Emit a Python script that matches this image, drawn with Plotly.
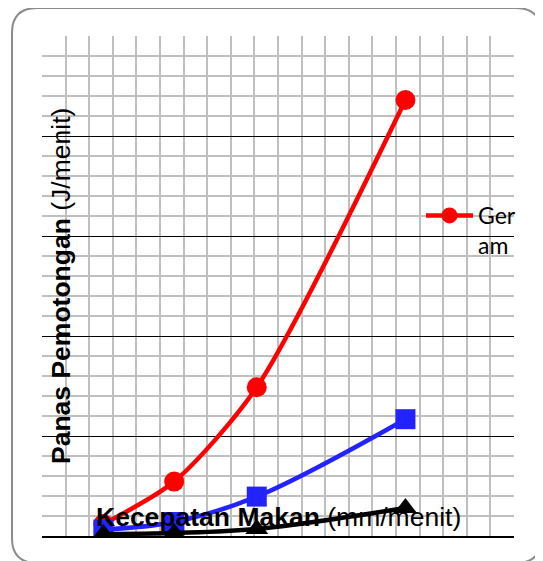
import plotly.graph_objects as go

# ---- data ----
feed_rate = [26, 56, 91, 154]            # Kecepatan Makan (mm/menit)
geram = [6.0, 27.2, 74.4, 218]           # red series
series_blue = [3.2, 7.0, 19.7, 58.4]     # blue series
series_black = [1.0, 1.5, 3.5, 14.0]     # black series
legend_label = "Ger<br>am"
x_title = "<b>Kecepatan Makan</b> (mm/menit)"
y_title = "<b>Panas Pemotongan</b> (J/menit)"

OFF = 8                      # page body margin offset
W, H = 543 - OFF, 561 - OFF
ML, MT = 42 - OFF, 36 - OFF
MR = W - (514 - OFF)
MB = H - (536 - OFF)
PW, PH = W - ML - MR, H - MT - MB


def px(x):
    return (x - OFF - ML) / PW


def py(y):
    return (H - MB - (y - OFF)) / PH


fig = go.Figure()
fig.add_trace(go.Scatter(
    x=feed_rate, y=geram, name=legend_label, mode="lines+markers",
    line=dict(color="#ff0000", width=4.5, shape="spline", smoothing=0.75),
    marker=dict(symbol="circle", size=20, color="#ff0000"),
))
fig.add_trace(go.Scatter(
    x=feed_rate, y=series_blue, mode="lines+markers", showlegend=False,
    line=dict(color="#2323ff", width=4.5, shape="spline", smoothing=1),
    marker=dict(symbol="square", size=20, color="#2323ff"),
))
fig.add_trace(go.Scatter(
    x=feed_rate, y=series_black, mode="lines+markers", showlegend=False,
    line=dict(color="#000000", width=4.5, shape="spline", smoothing=1),
    marker=dict(symbol="triangle-up", size=20, color="#000000"),
))

# rounded outer border
x0, x1, y0, y1, r = 12, 541, 8, 563, 25
pts = lambda a, b: f"{px(a):.5f},{py(b):.5f}"
path = (f"M {pts(x0 + r, y0)} L {pts(x1 - r, y0)} Q {pts(x1, y0)} {pts(x1, y0 + r)} "
        f"L {pts(x1, y1 - r)} Q {pts(x1, y1)} {pts(x1 - r, y1)} "
        f"L {pts(x0 + r, y1)} Q {pts(x0, y1)} {pts(x0, y1 - r)} "
        f"L {pts(x0, y0 + r)} Q {pts(x0, y0)} {pts(x0 + r, y0)} Z")

fig.update_layout(
    width=W, height=H,
    margin=dict(l=ML, r=MR, t=MT, b=MB, pad=0),
    paper_bgcolor="white", plot_bgcolor="white",
    font=dict(family="Liberation Sans, Arial", color="black"),
    showlegend=True,
    legend=dict(
        x=px(421), y=py(194), xanchor="left", yanchor="top",
        bgcolor="rgba(0,0,0,0)", borderwidth=0,
        font=dict(family="Lato, Noto Sans", size=23, color="black"),
        valign="top", itemwidth=47,
    ),
    xaxis=dict(
        range=[0, 200], dtick=10, tick0=0, showticklabels=False, ticks="",
        showgrid=True, gridcolor="#bfbfbf", gridwidth=1.5, zeroline=False,
        showline=True, linecolor="black", linewidth=2,
    ),
    yaxis=dict(
        range=[0, 250], dtick=50, tick0=0, showticklabels=False, ticks="",
        showgrid=True, gridcolor="black", gridwidth=1.3, zeroline=False,
        showline=False,
        minor=dict(dtick=10, showgrid=True, gridcolor="#bfbfbf", gridwidth=1.5),
    ),
    shapes=[dict(type="path", xref="paper", yref="paper", path=path,
                 line=dict(color="#8c8c8c", width=2), layer="below")],
    annotations=[
        dict(text=x_title, x=px(278), y=py(517), xref="paper", yref="paper",
             xanchor="center", yanchor="middle", showarrow=False,
             font=dict(family="Liberation Sans, Arial", size=26.5, color="black")),
        dict(text=y_title, x=px(61), y=py(286), xref="paper", yref="paper",
             xanchor="center", yanchor="middle", showarrow=False, textangle=-90,
             font=dict(family="Liberation Sans, Arial", size=26.5, color="black")),
    ],
)

fig.write_html("out.html")
